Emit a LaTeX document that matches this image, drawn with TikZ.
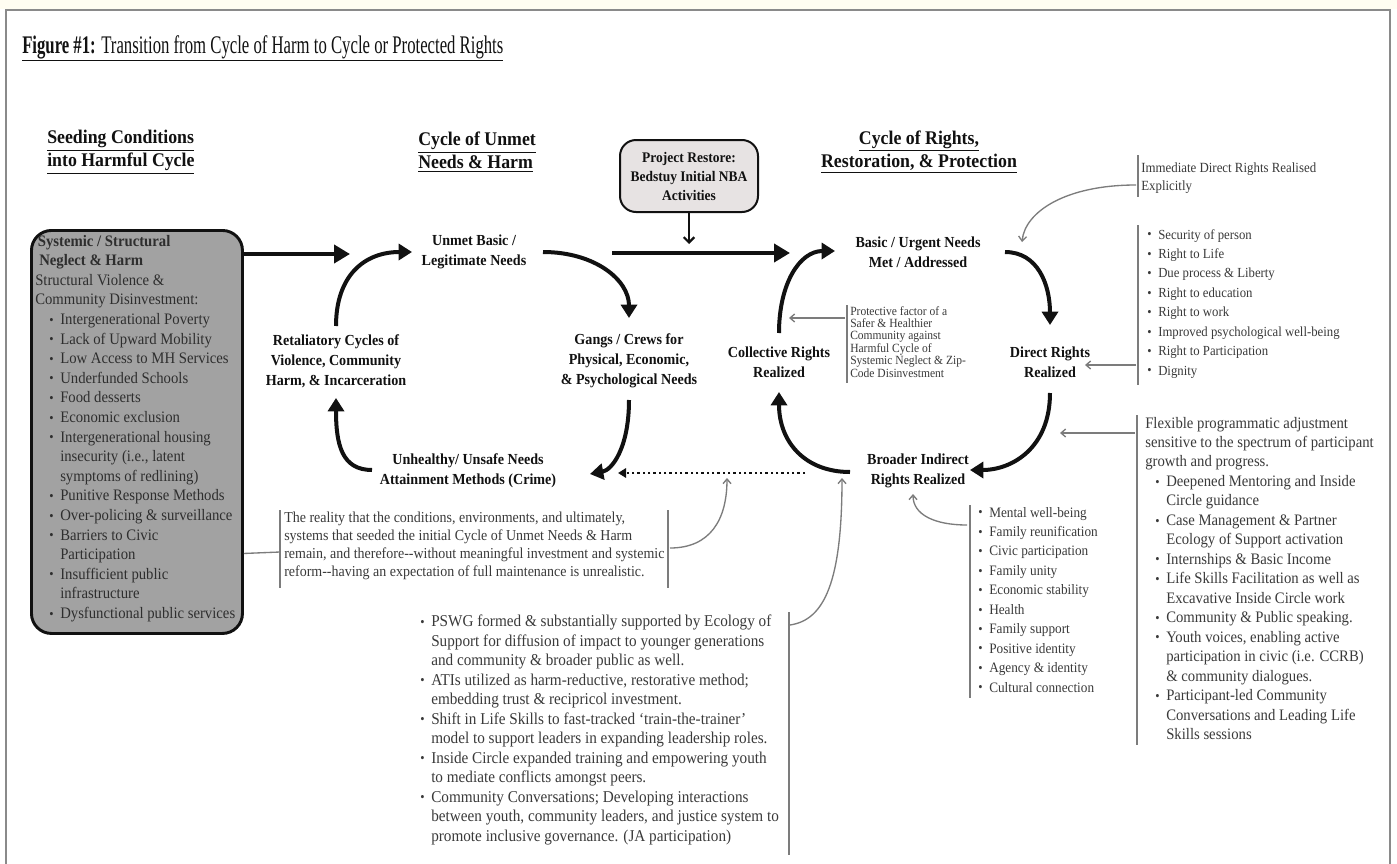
\documentclass[tikz,border=0pt]{standalone}
\usepackage{fontspec}
\setmainfont{Liberation Serif}[FakeStretch=0.92]
\newfontfamily\titlefont{Liberation Serif}[FakeStretch=0.66]
\usetikzlibrary{arrows.meta}
\definecolor{ink}{HTML}{111111}
\definecolor{notec}{HTML}{3A3A3A}
\definecolor{barc}{HTML}{7C7C7C}
\definecolor{seedfill}{HTML}{A2A2A2}
\definecolor{seedtext}{HTML}{2E2E2E}
\definecolor{prfill}{HTML}{E7E3E3}
\definecolor{paper}{HTML}{FFFDF1}
\definecolor{framec}{HTML}{8A8A8A}
\newcommand\blt{\makebox[8.25pt][l]{\raisebox{0.05ex}{\fontsize{10pt}{10pt}\selectfont\textbullet}}}
\begin{document}
\begin{tikzpicture}[x=0.75pt,y=-0.75pt,
  lbl/.style={font=\fontsize{11.5pt}{15pt}\selectfont\bfseries, text=ink, align=center, inner sep=0pt},
  head/.style={font=\fontsize{14.5pt}{17.25pt}\selectfont\bfseries, text=ink, align=left, inner sep=0pt},
  note/.style={font=\fontsize{11.5pt}{14.6pt}\selectfont, text=notec, align=left, inner sep=0pt},
  bar/.style={draw=barc, line width=1pt},
  garrow/.style={draw=barc, line width=1pt, -{Straight Barb[length=3.5pt,width=6pt]}},
  bigarrow/.style={draw=ink, line width=3.6pt, -{Triangle[length=12pt,width=13.5pt]}},
  cyc/.style={draw=ink, line width=3pt, -{Triangle[length=10pt,width=12pt]}},
  dotarrow/.style={draw=ink, line width=1.8pt, dash pattern=on 1.8pt off 2.2pt, -{Triangle[length=6pt,width=7pt]}},
  seedbox/.style={draw=ink, line width=2.2pt, fill=seedfill, rounded corners=15pt, inner sep=0pt},
  prbox/.style={draw=ink, line width=1.5pt, fill=prfill, rounded corners=12pt, minimum width=103.5pt, minimum height=54pt, inner sep=2pt, font=\fontsize{11pt}{14.25pt}\selectfont\bfseries, text=ink, align=center}
]
\useasboundingbox (0,0) rectangle (1397,864);
\fill[white] (0,0) rectangle (1397,864);
\fill[paper] (0,0) rectangle (1397,8.5);
\draw[framec, line width=1.5pt] (5.5,880) -- (5.5,9.5) -- (1389.5,9.5) -- (1389.5,880);

% title
\node[anchor=base west, inner sep=0pt, font=\titlefont\fontsize{19pt}{22pt}\selectfont, text=ink] (title) at (22,53)
  {\underline{\textbf{Figure \#1:} Transition from Cycle of Harm to Cycle or Protected Rights}};

% headings
\node[head, anchor=west] (hseed) at (47,152) {\underline{Seeding Conditions}\\\underline{into Harmful Cycle}};
\node[head, anchor=west] (hunmet) at (418,152) {\underline{Cycle of Unmet}\\\underline{Needs \& Harm}};
\node[head, align=center] (hrights) at (919,152) {\underline{Cycle of Rights,}\\\underline{Restoration, \& Protection}};

% project restore box
\node[prbox] (proj) at (689,176) {Project Restore:\\Bedstuy Initial NBA\\Activities};

% seed box
\node[seedbox, anchor=north west, minimum width=158.25pt, minimum height=302.25pt] (seed) at (30,229) {};
\node[anchor=base west, inner sep=0pt, align=left, text=seedtext, font=\fontsize{12pt}{14.7pt}\selectfont] (seedtxt) at (35,618.4) {%
\hspace*{2pt}\textbf{Systemic / Structural}\\
\hspace*{3pt}\textbf{Neglect \& Harm}\\
Structural Violence \&\\
Community Disinvestment:\\
\hspace*{10.5pt}\blt Intergenerational Poverty\\
\hspace*{10.5pt}\blt Lack of Upward Mobility\\
\hspace*{10.5pt}\blt Low Access to MH Services\\
\hspace*{10.5pt}\blt Underfunded Schools\\
\hspace*{10.5pt}\blt Food desserts\\
\hspace*{10.5pt}\blt Economic exclusion\\
\hspace*{10.5pt}\blt Intergenerational housing\\
\hspace*{18.75pt}insecurity (i.e., latent\\
\hspace*{18.75pt}symptoms of redlining)\\
\hspace*{10.5pt}\blt Punitive Response Methods\\
\hspace*{10.5pt}\blt Over-policing \& surveillance\\
\hspace*{10.5pt}\blt Barriers to Civic\\
\hspace*{18.75pt}Participation\\
\hspace*{10.5pt}\blt Insufficient public\\
\hspace*{18.75pt}infrastructure\\
\hspace*{10.5pt}\blt Dysfunctional public services};

% cycle labels
\node[lbl] (unmet) at (474,252) {Unmet Basic /\\Legitimate Needs};
\node[lbl] (retal) at (336,361) {Retaliatory Cycles of\\Violence, Community\\Harm, \& Incarceration};
\node[lbl] (unh) at (468,471) {Unhealthy/ Unsafe Needs\\Attainment Methods (Crime)};
\node[lbl] (gangs) at (629,361) {Gangs / Crews for\\Physical, Economic,\\\& Psychological Needs};
\node[lbl] (coll) at (779,362) {Collective Rights\\Realized};
\node[lbl] (basic) at (918,252) {Basic / Urgent Needs\\Met / Addressed};
\node[lbl] (direct) at (1050,362) {Direct Rights\\Realized};
\node[lbl] (broad) at (918,471) {Broader Indirect\\Rights Realized};

% thick arrows
\draw[bigarrow] ([shift={(0,25)}]seed.north east) -- ([shift={(-124,2)}]unmet.center);
\draw[cyc] ([shift={(0,-35)}]retal.center) .. controls (336,275) and (365,252) .. ([shift={(-62,0)}]unmet.center);
\draw[cyc] ([shift={(-96,-1)}]unh.center) .. controls (342,470) and (336,445) .. ([shift={(0,37)}]retal.center);
\draw[cyc] ([shift={(69,0)}]unmet.center) .. controls (595,252) and (629,280) .. ([shift={(0,-43)}]gangs.center);
\draw[cyc] ([shift={(0,39)}]gangs.center) .. controls (629,448) and (612,470) .. ([shift={(122,3)}]unh.center);
\draw[bigarrow] ([shift={(138,1)}]unmet.center) -- ([shift={(-128,1)}]basic.center);
\coordinate (pin) at (689,244);
\draw[ink, line width=1.6pt, -{Straight Barb[length=4pt,width=8pt]}] (proj.south) -- (pin);
\draw[cyc] ([shift={(0,-29)}]coll.center) .. controls (779,283) and (800,251) .. ([shift={(-83,-1)}]basic.center);
\draw[cyc] ([shift={(87,0)}]basic.center) .. controls (1038,252) and (1050,285) .. ([shift={(0,-37)}]direct.center);
\draw[cyc] ([shift={(0,31)}]direct.center) .. controls (1050,448) and (1012,470) .. ([shift={(52,-1)}]broad.center);
\draw[cyc] ([shift={(-68,1)}]broad.center) .. controls (805,472) and (779,442) .. ([shift={(0,30)}]coll.center);
\draw[dotarrow] ([shift={(-113,2)}]broad.center) -- ([shift={(150,2)}]unh.center);

% note: immediate
\draw[bar] (1138,155) -- (1138,197);
\node[note, anchor=base west, font=\fontsize{10.5pt}{13.8pt}\selectfont] (imm) at (1141,190.4) {Immediate Direct Rights Realised\\Explicitly};
\coordinate (imm-a) at (1136,185);
\draw[garrow] (imm-a) .. controls (1065,185) and (1025,212) .. ([shift={(104,-10)}]basic.center);

% note: security list
\draw[bar] (1138,225) -- (1138,385);
\node[note, anchor=base west, font=\fontsize{10.4pt}{14.6pt}\selectfont] (sec) at (1145,375.3) {%
\hspace*{1.5pt}\blt Security of person\\
\hspace*{1.5pt}\blt Right to Life\\
\hspace*{1.5pt}\blt Due process \& Liberty\\
\hspace*{1.5pt}\blt Right to education\\
\hspace*{1.5pt}\blt Right to work\\
\hspace*{1.5pt}\blt Improved psychological well-being\\
\hspace*{1.5pt}\blt Right to Participation\\
\hspace*{1.5pt}\blt Dignity};
\coordinate (sec-a) at (1136,365);
\draw[garrow] (sec-a) -- ([shift={(35,3)}]direct.center);

% note: protective
\draw[bar] (847,305) -- (847,383);
\node[note, anchor=base west, font=\fontsize{9.4pt}{9.3pt}\selectfont] (prot) at (850,377) {Protective factor of a\\Safer \& Healthier\\Community against\\Harmful Cycle of\\Systemic Neglect \& Zip-\\Code Disinvestment};
\coordinate (prot-a) at (845,318);
\draw[garrow] (prot-a) -- ([shift={(10,-44)}]coll.center);

% note: flexible
\draw[bar] (1137,415) -- (1137,745);
\node[note, anchor=base west, font=\fontsize{12pt}{14.6pt}\selectfont] (flex) at (1145,739.5) {%
Flexible programmatic adjustment\\
sensitive to the spectrum of participant\\
growth and progress.\\
\hspace*{7.5pt}\blt Deepened Mentoring and Inside\\
\hspace*{15.75pt}Circle guidance\\
\hspace*{7.5pt}\blt Case Management \& Partner\\
\hspace*{15.75pt}Ecology of Support activation\\
\hspace*{7.5pt}\blt Internships \& Basic Income\\
\hspace*{7.5pt}\blt Life Skills Facilitation as well as\\
\hspace*{15.75pt}Excavative Inside Circle work\\
\hspace*{7.5pt}\blt Community \& Public speaking.\\
\hspace*{7.5pt}\blt Youth voices, enabling active\\
\hspace*{15.75pt}participation in civic (i.e. CCRB)\\
\hspace*{15.75pt}\& community dialogues.\\
\hspace*{7.5pt}\blt Participant-led Community\\
\hspace*{15.75pt}Conversations and Leading Life\\
\hspace*{15.75pt}Skills sessions};
\coordinate (flex-a) at (1135,433);
\coordinate (flex-t) at (1060,433);
\draw[garrow] (flex-a) -- (flex-t);

% note: mental list
\draw[bar] (970,505) -- (970,698);
\node[note, anchor=base west, font=\fontsize{10.8pt}{14.6pt}\selectfont] (ment) at (976,692.2) {%
\hspace*{1.5pt}\blt Mental well-being\\
\hspace*{1.5pt}\blt Family reunification\\
\hspace*{1.5pt}\blt Civic participation\\
\hspace*{1.5pt}\blt Family unity\\
\hspace*{1.5pt}\blt Economic stability\\
\hspace*{1.5pt}\blt Health\\
\hspace*{1.5pt}\blt Family support\\
\hspace*{1.5pt}\blt Positive identity\\
\hspace*{1.5pt}\blt Agency \& identity\\
\hspace*{1.5pt}\blt Cultural connection};
\coordinate (ment-a) at (967,525);
\draw[garrow] (ment-a) .. controls (935,525) and (913,515) .. ([shift={(-5,23)}]broad.center);

% note: reality
\draw[bar] (280,510) -- (280,588);
\draw[bar] (668,510) -- (668,588);
\node[note, anchor=base west, font=\fontsize{11.4pt}{13.7pt}\selectfont] (real) at (284,576.8) {%
The reality that the conditions, environments, and ultimately,\\
systems that seeded the initial Cycle of Unmet Needs \& Harm\\
remain, and therefore-{}-without meaningful investment and systemic\\
reform-{}-having an expectation of full maintenance is unrealistic.};
\coordinate (real-l) at (280,552);
\draw[bar] ([shift={(0,121.5)}]seed.east) -- (real-l);
\coordinate (real-a) at (670,548);
\coordinate (dot-t) at (727,478);
\draw[garrow] (real-a) .. controls (710,548) and (727,520) .. (dot-t);

% note: PSWG
\draw[bar] (789,612) -- (789,855);
\node[note, anchor=base west, font=\fontsize{12.4pt}{14.6pt}\selectfont] (pswg) at (418,841.1) {%
\hspace*{1.5pt}\blt PSWG formed \& substantially supported by Ecology of\\
\hspace*{9.75pt}Support for diffusion of impact to younger generations\\
\hspace*{9.75pt}and community \& broader public as well.\\
\hspace*{1.5pt}\blt ATIs utilized as harm-reductive, restorative method;\\
\hspace*{9.75pt}embedding trust \& recipricol investment.\\
\hspace*{1.5pt}\blt Shift in Life Skills to fast-tracked `train-the-trainer'\\
\hspace*{9.75pt}model to support leaders in expanding leadership roles.\\
\hspace*{1.5pt}\blt Inside Circle expanded training and empowering youth\\
\hspace*{9.75pt}to mediate conflicts amongst peers.\\
\hspace*{1.5pt}\blt Community Conversations; Developing interactions\\
\hspace*{9.75pt}between youth, community leaders, and justice system to\\
\hspace*{9.75pt}promote inclusive governance. (JA participation)};
\coordinate (pswg-a) at (790,625);
\coordinate (br-t) at (842,478);
\draw[garrow] (pswg-a) .. controls (825,620) and (842,580) .. (br-t);
\end{tikzpicture}
\end{document}
